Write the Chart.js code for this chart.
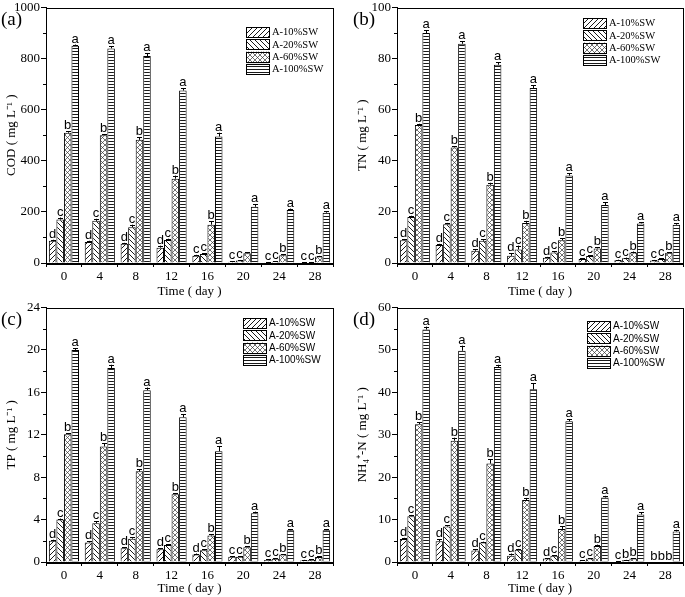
<!DOCTYPE html>
<html>
<head>
<meta charset="utf-8">
<script src="https://cdn.jsdelivr.net/npm/chart.js@4.4.1/dist/chart.umd.min.js"></script>
<style>
  body { margin: 0; background: #fff; }
  canvas { position: absolute; }
</style>
</head>
<body>
<canvas id="chart-a" style="left:0;top:0" width="342" height="300"></canvas>
<canvas id="chart-b" style="left:342px;top:0" width="343" height="300"></canvas>
<canvas id="chart-c" style="left:0;top:300px" width="342" height="297"></canvas>
<canvas id="chart-d" style="left:342px;top:300px" width="343" height="297"></canvas>
<script>
'use strict';

/* global Chart */

const days = ['0', '4', '8', '12', '16', '20', '24', '28'];
const seriesLabels = ['A-10%SW', 'A-20%SW', 'A-60%SW', 'A-100%SW'];

// (a) COD
const cod10 = [87, 82, 75, 60, 28, 5, 3, 2];
const cod20 = [170, 165, 140, 90, 35, 10, 5, 3];
const cod60 = [510, 500, 482, 330, 150, 38, 30, 25];
const cod100 = [850, 840, 810, 675, 495, 220, 207, 197];
const codErr10 = [4, 5, 4, 8, 4, 1, 1, 1];
const codErr20 = [8, 8, 10, 5, 3, 2, 1, 1];
const codErr60 = [6, 5, 10, 12, 14, 5, 4, 3];
const codErr100 = [5, 8, 12, 8, 15, 10, 6, 6];
const codLetters = ['dcba', 'dcba', 'dcba', 'dcba', 'ccba', 'cc a', 'ccba', 'ccba'];

// (b) TN
const tn10 = [8.9, 7.0, 4.8, 2.8, 2.1, 1.6, 1.1, 1.0];
const tn20 = [18.0, 15.2, 8.7, 5.3, 4.1, 2.7, 1.9, 1.6];
const tn60 = [54.0, 45.2, 30.6, 15.7, 8.9, 5.7, 4.1, 4.0];
const tn100 = [90.0, 85.8, 77.6, 68.5, 34.2, 22.7, 15.5, 15.0];
const tnErr10 = [0.5, 0.5, 0.5, 1, 0.3, 0.3, 0.2, 0.2];
const tnErr20 = [0.5, 0.5, 0.5, 1.5, 0.5, 0.3, 0.2, 0.2];
const tnErr60 = [0.5, 0.5, 0.8, 0.8, 0.8, 0.5, 0.4, 0.3];
const tnErr100 = [1, 1, 1, 1, 1, 1, 0.5, 0.5];
const tnLetters = ['dcba', 'dcba', 'dcba', 'dcba', 'dcba', 'ccba', 'ccba', 'ccba'];

// (c) TP
const tp10 = [2.0, 1.84, 1.3, 1.2, 0.7, 0.5, 0.2, 0.15];
const tp20 = [4.0, 3.65, 2.2, 1.6, 1.1, 0.5, 0.3, 0.2];
const tp60 = [12.05, 10.9, 8.55, 6.4, 2.5, 1.4, 0.7, 0.47];
const tp100 = [20.0, 18.3, 16.2, 13.65, 10.45, 4.6, 3.0, 3.0];
const tpErr10 = [0.1, 0.1, 0.1, 0.1, 0.1, 0.05, 0.05, 0.05];
const tpErr20 = [0.1, 0.2, 0.15, 0.1, 0.1, 0.05, 0.05, 0.05];
const tpErr60 = [0.1, 0.3, 0.2, 0.1, 0.1, 0.1, 0.05, 0.05];
const tpErr100 = [0.15, 0.3, 0.25, 0.3, 0.45, 0.15, 0.1, 0.1];
const tpLetters = ['dcba', 'dcba', 'dcba', 'dcba', 'dcba', 'ccba', 'ccba', 'ccba'];

// (d) NH4+-N
const nh10 = [5.4, 4.9, 2.7, 1.5, 0.8, 0.3, 0.1, 0];
const nh20 = [10.8, 8.35, 4.6, 2.9, 1.5, 0.8, 0.4, 0];
const nh60 = [32.5, 28.6, 23.2, 14.6, 7.8, 3.8, 0.8, 0];
const nh100 = [54.8, 49.8, 46.0, 40.7, 33.2, 15.2, 11.2, 7.2];
const nhErr10 = [0.3, 0.5, 0.3, 0.5, 0.1, 0.1, 0.1, 0];
const nhErr20 = [0.3, 0.3, 0.2, 0.2, 0.1, 0.1, 0.1, 0];
const nhErr60 = [0.5, 0.7, 1, 0.5, 0.6, 0.3, 0.1, 0];
const nhErr100 = [0.7, 1.2, 0.5, 1.5, 0.4, 0.4, 0.5, 0.4];
const nhLetters = ['dcba', 'dcba', 'dcba', 'dcba', 'dcba', 'ccba', 'cbba', 'bbba'];

const SERIF = "'Liberation Serif', 'Times New Roman', serif";
const SANS = "'Liberation Sans', Arial, sans-serif";

// black-on-white hatch fills
function makePattern(kind) {
  const s = kind === 'h' ? 3 : 5;
  const c = document.createElement('canvas');
  c.width = s; c.height = s;
  const g = c.getContext('2d');
  g.fillStyle = '#fff';
  g.fillRect(0, 0, s, s);
  g.strokeStyle = kind === 'x' ? '#333' : '#000';
  g.lineWidth = kind === 'x' ? 0.7 : 0.9;
  g.beginPath();
  if (kind === 'h') {
    g.moveTo(0, 0.5); g.lineTo(s, 0.5);
  }
  if (kind === '/' || kind === 'x') {
    g.moveTo(-1, s + 1); g.lineTo(s + 1, -1);
    g.moveTo(-1, 1); g.lineTo(1, -1);
    g.moveTo(s - 1, s + 1); g.lineTo(s + 1, s - 1);
  }
  if (kind === '\\' || kind === 'x') {
    g.moveTo(-1, -1); g.lineTo(s + 1, s + 1);
    g.moveTo(s - 1, -1); g.lineTo(s + 1, 1);
    g.moveTo(-1, s - 1); g.lineTo(1, s + 1);
  }
  g.stroke();
  return g.createPattern(c, 'repeat');
}

const fills = ['/', '\\', 'x', 'h'].map(makePattern);

const extras = {
  id: 'extras',
  afterDatasetsDraw(chart, args, opts) {
    const ctx = chart.ctx;
    const y = chart.scales.y;
    const area = chart.chartArea;
    ctx.save();
    ctx.strokeStyle = '#000';
    ctx.fillStyle = '#000';
    ctx.lineWidth = 1;

    // error bars + significance letters
    ctx.font = '13px ' + SANS;
    ctx.textAlign = 'center';
    ctx.textBaseline = 'alphabetic';
    chart.data.datasets.forEach((ds, i) => {
      chart.getDatasetMeta(i).data.forEach((bar, j) => {
        const v = ds.data[j];
        const e = opts.errors[i][j];
        const top = y.getPixelForValue(v + e);
        if (e > 0) {
          const x = Math.round(bar.x) + 0.5;
          ctx.beginPath();
          ctx.moveTo(x, bar.y);
          ctx.lineTo(x, top);
          ctx.moveTo(x - 2.5, Math.round(top) + 0.5);
          ctx.lineTo(x + 2.5, Math.round(top) + 0.5);
          ctx.stroke();
        }
        const letter = opts.letters[j][i];
        if (letter && letter !== ' ') ctx.fillText(letter, bar.x, top - 2);
      });
    });

    // frame around plot
    ctx.strokeRect(Math.round(area.left) + 0.5, Math.round(area.top) + 0.5,
      Math.round(area.right - area.left), Math.round(area.bottom - area.top));

    // minor ticks on y axis
    const step = opts.step;
    for (let v = step / 2; v < y.max; v += step) {
      const py = Math.round(y.getPixelForValue(v)) + 0.5;
      ctx.beginPath();
      ctx.moveTo(area.left - 3, py);
      ctx.lineTo(area.left, py);
      ctx.stroke();
    }

    // legend
    const lg = opts.legend;
    ctx.font = lg.font;
    ctx.textAlign = 'left';
    ctx.textBaseline = 'middle';
    chart.data.datasets.forEach((ds, i) => {
      const ry = lg.y + i * 12.3;
      ctx.fillStyle = ds.backgroundColor;
      ctx.fillRect(lg.x, ry, 23, 10.5);
      ctx.strokeRect(lg.x + 0.5, Math.round(ry) + 0.5, 23, 10);
      ctx.fillStyle = '#000';
      ctx.fillText(ds.label, lg.x + 26, ry + 5.5);
    });

    // panel tag
    ctx.font = '19px ' + SERIF;
    ctx.fillText(opts.tag, opts.tagX, 20);
    ctx.restore();
  }
};

function buildChart(id, cfg) {
  const values = [cfg.s10, cfg.s20, cfg.s60, cfg.s100];
  new Chart(document.getElementById(id), {
    type: 'bar',
    data: {
      labels: days,
      datasets: values.map((d, i) => ({
        label: seriesLabels[i],
        data: d,
        backgroundColor: fills[i],
        borderColor: '#000',
        borderWidth: 1,
        barPercentage: 1,
        categoryPercentage: 0.84
      }))
    },
    options: {
      responsive: false,
      animation: false,
      devicePixelRatio: 1,
      layout: { padding: { left: 0, right: cfg.padRight, top: 6, bottom: 0 } },
      plugins: {
        legend: { display: false },
        tooltip: { enabled: false },
        extras: {
          errors: cfg.errors,
          letters: cfg.letters,
          step: cfg.step,
          legend: cfg.legend,
          tag: cfg.tag,
          tagX: cfg.tagX
        }
      },
      scales: {
        x: {
          offset: true,
          grid: { offset: true, drawOnChartArea: false, tickLength: 4, color: '#000' },
          border: { color: '#000', width: 1 },
          ticks: { color: '#000', font: { family: SERIF, size: 13 }, padding: 2, maxRotation: 0 },
          title: {
            display: true, text: 'Time ( day )', color: '#000',
            font: { family: SERIF, size: 13 }, padding: { top: 0, bottom: 1 }
          },
          afterFit(scale) { scale.height = cfg.xHeight; }
        },
        y: {
          min: 0,
          max: cfg.max,
          grid: { drawOnChartArea: false, tickLength: 5, color: '#000' },
          border: { color: '#000', width: 1 },
          ticks: {
            stepSize: cfg.step, color: '#000', padding: 1,
            font: { family: SERIF, size: 13, lineHeight: 1 },
            callback: (v) => String(v)
          },
          title: {
            display: true, text: cfg.yTitle, color: '#000',
            font: { family: SERIF, size: 13 }, padding: { top: cfg.titlePad, bottom: 0 }
          },
          afterFit(scale) { scale.width = cfg.yWidth; }
        }
      }
    },
    plugins: [extras]
  });
}

buildChart('chart-a', {
  s10: cod10, s20: cod20, s60: cod60, s100: cod100,
  errors: [codErr10, codErr20, codErr60, codErr100], letters: codLetters,
  max: 1000, step: 200, yTitle: 'COD ( mg L⁻¹ )',
  yWidth: 46, xHeight: 37, padRight: 9, titlePad: 4,
  legend: { x: 246, y: 27, font: '10.5px ' + SERIF }, tag: '(a)', tagX: 1
});
buildChart('chart-b', {
  s10: tn10, s20: tn20, s60: tn60, s100: tn100,
  errors: [tnErr10, tnErr20, tnErr60, tnErr100], letters: tnLetters,
  max: 100, step: 20, yTitle: 'TN ( mg L⁻¹ )',
  yWidth: 55, xHeight: 37, padRight: 2, titlePad: 13,
  legend: { x: 241, y: 18, font: '10.5px ' + SERIF }, tag: '(b)', tagX: 11
});
buildChart('chart-c', {
  s10: tp10, s20: tp20, s60: tp60, s100: tp100,
  errors: [tpErr10, tpErr20, tpErr60, tpErr100], letters: tpLetters,
  max: 24, step: 4, yTitle: 'TP ( mg L⁻¹ )',
  yWidth: 46, xHeight: 35, padRight: 9, titlePad: 4,
  legend: { x: 243, y: 18, font: '10px ' + SANS }, tag: '(c)', tagX: 1
});
buildChart('chart-d', {
  s10: nh10, s20: nh20, s60: nh60, s100: nh100,
  errors: [nhErr10, nhErr20, nhErr60, nhErr100], letters: nhLetters,
  max: 60, step: 10, yTitle: 'NH₄⁺-N ( mg L⁻¹ )',
  yWidth: 55, xHeight: 35, padRight: 2, titlePad: 13,
  legend: { x: 245, y: 21, font: '10px ' + SANS }, tag: '(d)', tagX: 11
});
</script>
</body>
</html>
